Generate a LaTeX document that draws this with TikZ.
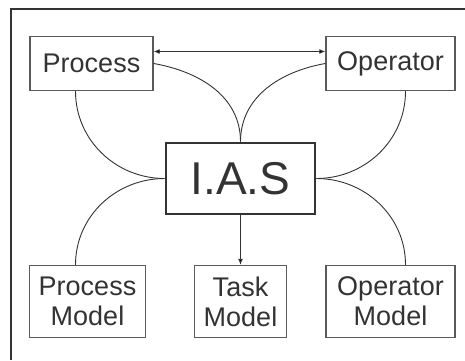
\documentclass[tikz,border=0pt]{standalone}
\usepackage{fontspec}
\setmainfont{Liberation Sans}
\usetikzlibrary{positioning,arrows.meta}

\definecolor{inkgray}{HTML}{333333}
\definecolor{boxgray}{HTML}{5A5A5A}

\tikzset{
	unit/.style={draw=boxgray, line width=1.4pt, text=inkgray, align=center,
		font=\fontsize{27}{30}\selectfont, inner sep=0pt, minimum height=54pt},
	model/.style={unit, minimum height=72pt},
	core/.style={draw=inkgray, line width=2.6pt, text=inkgray, inner sep=0pt,
		font=\fontsize{46}{50}\selectfont, minimum width=149pt, minimum height=71pt},
	link/.style={draw=inkgray, line width=0.9pt}
}

\begin{document}
\begin{tikzpicture}[x=1pt,y=-1pt,node distance=115pt,on grid,>={Latex[length=6pt,width=5pt]}]
			\useasboundingbox (0,0) rectangle (465,360);
			\draw[inkgray, line width=1.6pt] (11,360) -- (11,9) -- (465,9);
			\node[core] (ias) at (240.5,178.5) {I.A.S};
			\node[unit, minimum width=123pt] (proc) [above left=115pt and 149pt of ias] {Process};
			\node[unit, minimum width=129pt] (oper) [above right=115pt and 150pt of ias] {Operator};
			\node[model, minimum width=116pt] (procmodel) [below left=123pt and 153pt of ias] {Process\\Model};
			\node[model, minimum width=92pt] (taskmodel) [below=123pt of ias] {Task\\Model};
			\node[model, minimum width=129pt] (opermodel) [below right=123pt and 150pt of ias] {Operator\\Model};
			\path[link]
			([yshift=12pt]proc.east)
			edge[<->] ([yshift=12pt]oper.west)
			(proc.east)
			edge [out=-10, in=90] (ias.north)
			(oper.west)
			edge [out=190, in=90] (ias.north)
			([xshift=-16pt]proc.south)
			edge [out=-90, in=180] (ias.west)
			([xshift=15pt]oper.south)
			edge [out=-90, in=0] (ias.east)
			([xshift=-12pt]procmodel.north)
			edge [out=90, in=180] (ias.west)
			([xshift=15pt]opermodel.north)
			edge [out=90, in=0] (ias.east)
			(ias.south)
			edge [->] (taskmodel.north);
		\end{tikzpicture}
\end{document}
